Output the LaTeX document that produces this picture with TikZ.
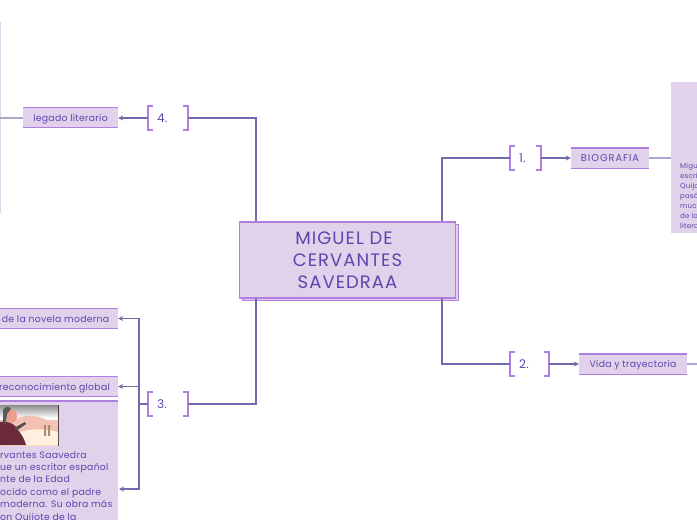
\documentclass[tikz,border=0pt]{standalone}
\usepackage{fontspec}
\setmainfont{Poppins}[LetterSpace=3]
\newfontfamily\titlefont{Poppins}[LetterSpace=6]
\newfontfamily\capsfont{Poppins}[LetterSpace=10]
\usetikzlibrary{positioning}
\usetikzlibrary{arrows.meta}
\definecolor{lilac}{HTML}{E1D1EB}
\definecolor{edgeviolet}{HTML}{B07FE0}
\definecolor{inkviolet}{HTML}{5C46AE}
\definecolor{linkblue}{HTML}{6F6CAD}
\definecolor{paleblue}{HTML}{ABA8CE}
\definecolor{coatred}{HTML}{6A2A3C}
\tikzset{
    titlebox/.style={shape=rectangle,draw=edgeviolet,fill=lilac,line width=1.7pt,minimum width=216pt,minimum height=76pt,inner sep=0pt},
    numbox/.style={shape=rectangle,text=inkviolet,inner xsep=9pt,inner ysep=0pt,minimum height=23pt,align=left,font=\fontsize{12}{14}\selectfont},
    branch/.style={shape=rectangle,fill=lilac,text=inkviolet,inner sep=0pt,text height=9pt,text depth=1.5pt,minimum height=20pt,font=\fontsize{9.3}{11}\selectfont},
    rule/.style={draw=edgeviolet,line width=1.4pt},
    bracket/.style={draw=edgeviolet,line width=1.7pt},
    link/.style={draw=linkblue,line width=1.2pt},
    tiplink/.style={link,-{Stealth[length=5pt, width=5pt]}},
    palelink/.style={draw=paleblue,line width=1.2pt},
    bodytext/.style={text=inkviolet,inner sep=0pt,align=left}
}
\begin{document}
\begin{tikzpicture}[x=1pt,y=-1pt]
    \useasboundingbox (0,0) rectangle (697,520);

    \fill[lilac] (671,82) rectangle (697,233);
    \fill[lilac] (0,22) rectangle (1,213);
    \fill[lilac] (0,401) rectangle (118,520);
    \draw[rule] (0,401) -- (118,401);

    \node[titlebox] (shade) at (350.5,262.5) {};
    \node[titlebox,text=inkviolet,align=center,font=\titlefont\fontsize{18}{22}\selectfont] (main) at (347.5,260) {MIGUEL DE\hspace*{7pt}\\CERVANTES\hspace*{10pt}\\SAVEDRAA};

    \node[numbox,text width=13pt] (n1) at (525.5,158) {1.};
    \node[numbox,text width=21pt] (n2) at (529.5,364) {2.};
    \node[numbox,text width=22pt] (n3) at (168,404) {3.};
    \node[numbox,text width=22pt] (n4) at (168,118) {4.};

    \node[branch,minimum width=78pt,font=\capsfont\fontsize{9.8}{11}\selectfont] (bio) at (610,158) {BIOGRAFIA};
    \node[branch,minimum width=108pt] (vida) at (633,364) {Vida y trayectoria};
    \node[branch,minimum width=95pt] (legado) at (70.5,117.5) {legado literario};
    \node[branch,minimum width=125pt] (novela) at (55.5,318.5) {de la novela moderna};
    \node[branch,minimum width=127pt] (global) at (54.5,386.5) {reconocimiento global};

    \foreach \n in {bio,vida,legado,novela,global}
        \draw[rule] (\n.north west) -- (\n.north east) (\n.south west) -- (\n.south east);

    \foreach \n in {n1,n2,n3,n4} {
        \draw[bracket] ([xshift=5pt]\n.north west) -- (\n.north west) -- (\n.south west) -- ([xshift=5pt]\n.south west);
        \draw[bracket] ([xshift=-5pt]\n.north east) -- (\n.north east) -- (\n.south east) -- ([xshift=-5pt]\n.south east);
    }

    \begin{scope}
        \clip (0,405) rectangle (59,446);
        \fill[black!85] (0,405) rectangle (59,446);
        \shade[top color=black!45,bottom color=white] (0,405) rectangle (58,418);
        \shade[top color=white,bottom color=black!8] (0,418) rectangle (58,424);
        \shade[top color=brown!45!red!30,bottom color=orange!25!white] (0,420) rectangle (58,445);
        \fill[brown!60!red!35] (8,426) .. controls (20,412) and (40,412) .. (58,428) -- (58,434) -- (8,434) -- cycle;
        \fill[orange!12!white] (10,435) .. controls (30,428) and (44,428) .. (58,432) -- (58,445) -- (10,445) -- cycle;
        \fill[brown!70!black!70] (44,425) rectangle (46,436) (48,425) rectangle (50,436);
        \fill[coatred] (0,422) .. controls (8,420) and (16,425) .. (18,430) .. controls (23,436) and (25,441) .. (26,445) -- (0,445) -- cycle;
        \fill[brown!60!red!55] (7,411) .. controls (11,407) and (17,410) .. (17,416) .. controls (17,423) and (10,425) .. (7,421) -- cycle;
        \fill[black!65] (3,410) .. controls (5,406) and (9,406) .. (11,409) -- (7,414) -- (6,424) -- (3,422) -- cycle;
        \fill[black!70] (14,428) -- (25,422) -- (26,424) -- (16,431) -- cycle;
    \end{scope}

    \node[bodytext,anchor=north west,font=\fontsize{9.3}{12.4}\selectfont] (bodyleft) at (0,451) {rvantes Saavedra\\ue un escritor español\\nte de la Edad\\ocido como el padre\\moderna. Su obra más\\on Quijote de la};
    \node[bodytext,anchor=north west,font=\fontsize{7}{10}\selectfont] (bodyright) at (680,163) {Migu\\escri\\Quijo\\pasó\\muc\\de la\\litera};

    \coordinate (mainNE) at (442,221);
    \coordinate (mainSE) at (442,298);
    \coordinate (mainNW) at (256,221);
    \coordinate (mainSW) at (256,298);
    \coordinate (fork) at (139,404);
    \coordinate (bodyport) at (119,489);
    \coordinate (bioport) at (671,158);
    \coordinate (vidaport) at (697,364);
    \coordinate (legadoport) at (0,118);

    \draw[link] (mainNE) |- (n1.west);
    \draw[link] (mainSE) |- (n2.west);
    \draw[link] (mainSW) |- (n3.east);
    \draw[link] (mainNW) |- (n4.east);

    \draw[tiplink] (n1) -- (bio);
    \draw[tiplink] (n2) -- (vida);
    \draw[tiplink] (n4.west) -- (n4.west -| legado.east);

    \draw[link] (n3.west) -- (fork);
    \draw[tiplink] (fork) |- (novela.east);
    \draw[tiplink] (fork) |- (global.east);
    \draw[tiplink] (fork) |- (bodyport);

    \draw[palelink] (bio) -- (bioport);
    \draw[palelink] (vida) -- (vidaport);
    \draw[palelink] (legado.west |- legadoport) -- (legadoport);
\end{tikzpicture}
\end{document}
